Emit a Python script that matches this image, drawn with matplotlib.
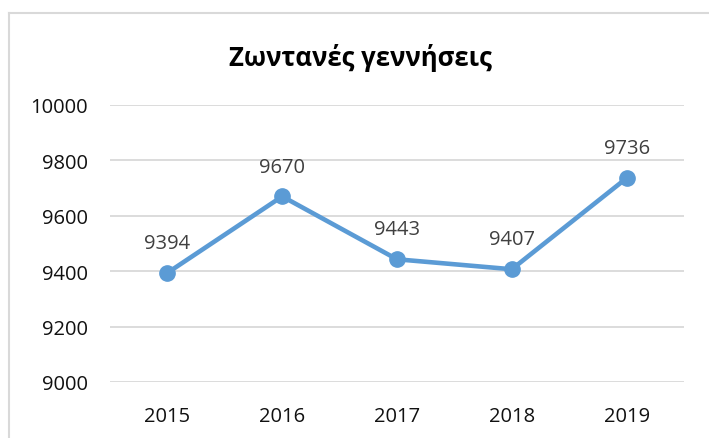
import matplotlib.pyplot as plt
from matplotlib.lines import Line2D

years = ['2015', '2016', '2017', '2018', '2019']
births = [9394, 9670, 9443, 9407, 9736]
yticks = [9000, 9200, 9400, 9600, 9800, 10000]

plt.rcParams['font.family'] = ['Open Sans', 'DejaVu Sans']

fig = plt.figure(figsize=(7.09, 4.39), dpi=100)
ax = fig.add_axes([110/709, 56/439, 574/709, 277/439])

x = list(range(len(years)))
ax.plot(x, births, color='#5b9bd5', lw=3.3, marker='o', ms=11, zorder=3)
for xi, v in zip(x, births):
    ax.annotate(str(v), (xi, v), xytext=(0, 21.5), textcoords='offset points',
                ha='center', va='center', fontsize=14.5, color='#404040')

ax.set_xlim(-0.5, 4.5)
ax.set_ylim(9000, 10000)
ax.set_yticks(yticks)
ax.set_xticks(x)
ax.set_xticklabels(years)
ax.grid(axis='y', color='#d9d9d9', lw=1.3)
ax.set_axisbelow(True)
for s in ax.spines.values():
    s.set_visible(False)
ax.tick_params(length=0, labelsize=14.5, colors='#111111')
ax.tick_params(axis='y', pad=16)
ax.tick_params(axis='x', pad=17)

fig.text(360/709, 1 - 58/439, 'Ζωντανές γεννήσεις', ha='center', va='center',
         fontsize=18.5, fontweight='bold', color='black')

# chart border (left and top visible)
fig.add_artist(Line2D([9/709, 9/709], [0, 1 - 14/439], transform=fig.transFigure, color='#d9d9d9', lw=1.5))
fig.add_artist(Line2D([9/709, 1], [1 - 14/439, 1 - 14/439], transform=fig.transFigure, color='#d9d9d9', lw=1.5))

fig.savefig('out.png', dpi=100)
